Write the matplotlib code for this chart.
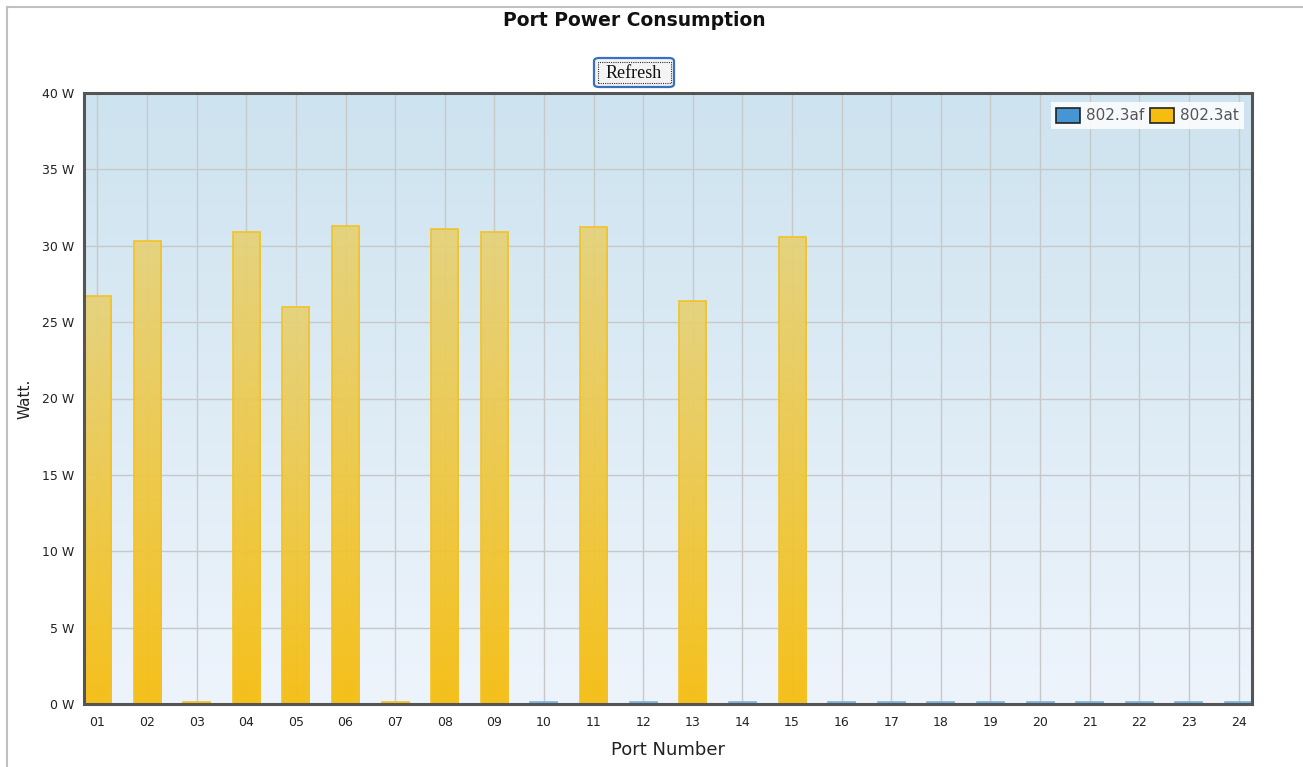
import numpy as np
import matplotlib.pyplot as plt
from matplotlib.colors import LinearSegmentedColormap
from matplotlib.patches import Rectangle, FancyBboxPatch
from matplotlib.lines import Line2D

# Per-port power draw (W) split by PoE standard
ports = ['01', '02', '03', '04', '05', '06', '07', '08', '09', '10', '11', '12',
         '13', '14', '15', '16', '17', '18', '19', '20', '21', '22', '23', '24']
at_watts = [26.7, 30.3, 0.1, 30.9, 26.0, 31.3, 0.1, 31.1, 30.9, 0, 31.2, 0,
            26.4, 0, 30.6, 0, 0, 0, 0, 0, 0, 0, 0, 0]
af_watts = [0, 0, 0, 0, 0, 0, 0, 0, 0, 0.1, 0, 0.1,
            0, 0.1, 0, 0.1, 0.1, 0.1, 0.1, 0.1, 0.1, 0.1, 0.1, 0.1]
y_ticks = [0, 5, 10, 15, 20, 25, 30, 35, 40]

W, H = 1303, 767
fig = plt.figure(figsize=(W / 100, H / 100), dpi=100)
ax = fig.add_axes([84 / W, 1 - 704 / H, (1252 - 84) / W, (704 - 93) / H])

x = np.arange(len(ports))
bar_w = 0.545
xlim = (-0.272, len(ports) - 1 + 0.272)

# background gradient
bg = LinearSegmentedColormap.from_list('bg', ['#eef4fc', '#cde3ef'])
ax.imshow(np.linspace(0, 1, 256).reshape(-1, 1), cmap=bg, aspect='auto',
          extent=[xlim[0], xlim[1], 0, 40], origin='lower', zorder=0)

ax.set_xticks(x)
ax.set_xticklabels(ports)
ax.set_yticks(y_ticks)
ax.set_yticklabels([f'{v} W' for v in y_ticks])
ax.grid(True, color='#c8c8c8', linewidth=1.0, zorder=1)
ax.set_axisbelow(True)
ax.tick_params(length=0, labelsize=9, colors='#222222')
ax.tick_params(axis='x', pad=9)
ax.tick_params(axis='y', pad=7)

at_cmap = LinearSegmentedColormap.from_list('at', ['#f6be10', '#e6d27a'])
af_cmap = LinearSegmentedColormap.from_list('af', ['#4a9ad4', '#8fbfe2'])
grad = np.linspace(0, 1, 256).reshape(-1, 1)


def gradient_bars(values, cmap, edge):
    bars = ax.bar(x, values, width=bar_w, color='none', edgecolor=edge,
                  linewidth=1.2, zorder=3)
    for b, v in zip(bars, values):
        if v <= 0:
            continue
        x0 = b.get_x()
        im = ax.imshow(grad, cmap=cmap, aspect='auto', origin='lower',
                       extent=[x0, x0 + bar_w, 0, max(v, 0.15)], zorder=2, alpha=0.95)
        im.set_clip_path(b)
    return bars


gradient_bars(at_watts, at_cmap, '#f2c227')
gradient_bars(af_watts, af_cmap, '#7fb3dc')
ax.set_xlim(*xlim)
ax.set_ylim(0, 40)

for s in ax.spines.values():
    s.set_color('#555555')
    s.set_linewidth(2.2)
    s.set_zorder(5)

ax.set_xlabel('Port Number', fontsize=13, labelpad=8, color='#222222')
ax.set_ylabel('Watt.', fontsize=11, labelpad=7, color='#222222')

# legend
handles = [Rectangle((0, 0), 1, 1, facecolor='#4596d2', edgecolor='#222222', linewidth=1.2),
           Rectangle((0, 0), 1, 1, facecolor='#f6bd10', edgecolor='#222222', linewidth=1.2)]
leg = ax.legend(handles, ['802.3af', '802.3at'], loc='upper right', ncol=2,
                fontsize=11, frameon=True, fancybox=False, borderpad=0.35,
                handlelength=1.55, handleheight=1.15, handletextpad=0.4,
                columnspacing=0.4, bbox_to_anchor=(0.9935, 0.985), borderaxespad=0)
leg.get_frame().set_facecolor('white')
leg.get_frame().set_alpha(0.85)
leg.get_frame().set_edgecolor('none')
for t in leg.get_texts():
    t.set_color('#555555')

fig.text(634 / W, 1 - 21 / H, 'Port Power Consumption', ha='center', va='center',
         fontsize=13.5, fontweight='bold', color='#111111')

# refresh button
btn = FancyBboxPatch((594 / W, 1 - 87 / H), 80 / W, 29 / H,
                     boxstyle='round,pad=0,rounding_size=0.004', transform=fig.transFigure,
                     facecolor='#f4f4f4', edgecolor='#3a6fc4', linewidth=1.6)
fig.patches.append(btn)
fig.patches.append(Rectangle((598 / W, 1 - 83 / H), 73 / W, 21 / H, transform=fig.transFigure,
                             facecolor='none', edgecolor='#333333', linewidth=0.8,
                             linestyle=(0, (1, 1))))
fig.text(634 / W, 1 - 73 / H, 'Refresh', ha='center', va='center', fontsize=13,
         family='Liberation Serif', color='#111111')

# outer frame
fig.lines.append(Line2D([7 / W, 7 / W], [0, 1 - 7 / H], transform=fig.transFigure,
                        color='#c0c0c0', linewidth=1.5))
fig.lines.append(Line2D([7 / W, 1], [1 - 7 / H, 1 - 7 / H], transform=fig.transFigure,
                        color='#c0c0c0', linewidth=1.5))

fig.savefig('out.png', dpi=100)
